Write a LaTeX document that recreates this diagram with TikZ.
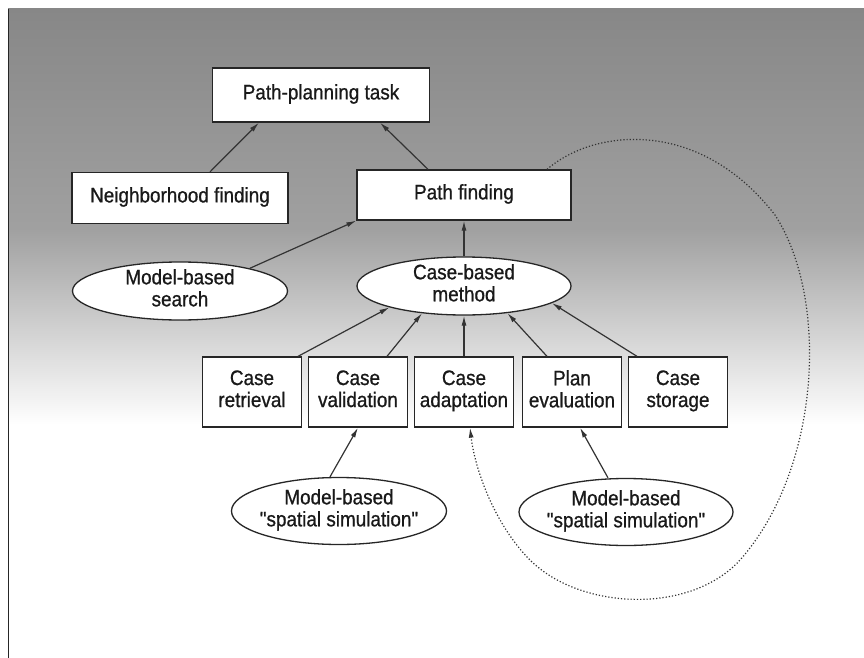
\documentclass[tikz,border=0pt]{standalone}
\usepackage{fontspec}
\setmainfont{Liberation Sans}[FakeStretch=0.9]
\newfontfamily\diagfont{Liberation Sans}[FakeStretch=0.9, FakeBold=0.8]
\usetikzlibrary{arrows.meta,shapes.geometric,calc}
\begin{document}
\begin{tikzpicture}[x=1pt,y=-1pt,
  lbl/.style={font=\diagfont\fontsize{21}{22}\selectfont, align=center, text=black!90,
    execute at begin node={\strut}, execute at end node={\strut}},
  box/.style={lbl, draw=black!85, fill=white, line width=1.3pt, inner sep=0pt},
  sbox/.style={box, minimum width=99pt, minimum height=70pt},
  oval/.style={lbl, ellipse, draw=black!85, fill=white, line width=1.3pt, inner xsep=-12pt, inner ysep=-6pt},
  link/.style={draw=black!80, line width=1.2pt, -{Latex[length=10pt,width=5pt]}},
  dotloop/.style={draw=black!80, line width=1.2pt, dash pattern=on 1.2pt off 2pt, -{Latex[length=10pt,width=5pt]}}]
\useasboundingbox (0,0) rectangle (864,658);
% background
\fill[white] (0,0) rectangle (864,658);
\shade[top color=black!47, bottom color=black!37] (8,9) rectangle (864,231);
\shade[top color=black!37, bottom color=white] (8,230) rectangle (864,425);
\draw[black!85, line width=1pt] (8,9) -- (8,658);
% nodes
\node[box, minimum width=217pt, minimum height=54pt] (ppt) at (321,95) {Path-planning task};
\node[box, minimum width=216pt, minimum height=51pt] (nf) at (180,198) {Neighborhood finding};
\node[box, minimum width=214pt, minimum height=50pt] (pf) at (464,195) {Path finding};
\node[oval, minimum width=215pt, minimum height=58pt] (mbs) at (180,291) {Model-based\\search};
\node[oval, minimum width=214pt, minimum height=58pt] (cbm) at (464,286) {Case-based\\method};
\node[sbox] (cr) at (252,392) {Case\\retrieval};
\node[sbox] (cv) at (358,392) {Case\\validation};
\node[sbox] (ca) at (464,392) {Case\\adaptation};
\node[sbox] (pe) at (572,392) {Plan\\evaluation};
\node[sbox] (cs) at (678,392) {Case\\storage};
\node[oval, minimum width=215pt, minimum height=67pt] (ss1) at (339,511) {Model-based\\"spatial simulation"};
\node[oval, minimum width=214pt, minimum height=67pt] (ss2) at (626,512) {Model-based\\"spatial simulation"};
% connectors
\draw[link] ($(nf.north)+(30,0)$) -- ($(ppt.south)+(-62,0)$);
\draw[link] ($(pf.north)+(-36,0)$) -- ($(ppt.south)+(59,0)$);
\draw[link] (mbs.18) -- (pf.south west);
\draw[link] (cbm.north) -- (pf.south);
\draw[link] ($(cr.north)+(46,0)$) -- (cbm.196);
\draw[link] ($(cv.north)+(29,0)$) -- (cbm.213);
\draw[link] (ca.north) -- (cbm.south);
\draw[link] ($(pe.north)+(-25,0)$) -- (cbm.328);
\draw[link] ($(cs.north)+(-41,0)$) -- (cbm.349);
\draw[link] ($(ss1.north)+(-9,0)$) -- (cv.south);
\draw[link] ($(ss2.north)+(-18,0)$) -- ($(pe.south)+(8,0)$);
% dotted loop
\coordinate (ls) at ($(pf.north)+(83,0)$);
\coordinate (le) at ($(ca.south)+(6,0)$);
\draw[dotloop] (ls) .. controls (595,128) and (700,118) .. (775,215)
  .. controls (830,300) and (820,470) .. (740,560)
  .. controls (690,615) and (580,610) .. (530,560)
  .. controls (495,525) and (475,470) .. (le);
\end{tikzpicture}
\end{document}
